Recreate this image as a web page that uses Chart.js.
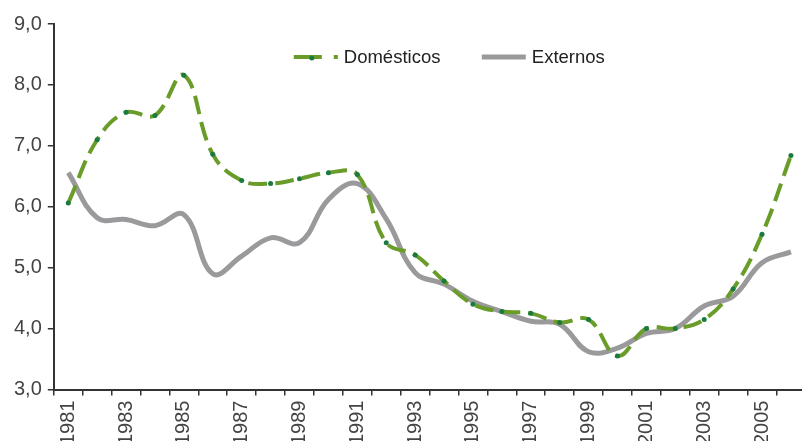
<!DOCTYPE html>
<html>
<head>
<meta charset="utf-8">
<script src="https://cdn.jsdelivr.net/npm/chart.js@4.4.1/dist/chart.umd.min.js"></script>
<style>
  html, body { margin: 0; padding: 0; background: #fff; overflow: hidden; }
  #wrap { width: 820px; height: 450px; }
</style>
</head>
<body>
<div id="wrap"><canvas id="chart"></canvas></div>
<script>
const years = ["1981", "1982", "1983", "1984", "1985", "1986", "1987", "1988", "1989",
  "1990", "1991", "1992", "1993", "1994", "1995", "1996", "1997", "1998", "1999",
  "2000", "2001", "2002", "2003", "2004", "2005", "2006"];

const domesticos = [6.06, 7.10, 7.55, 7.50, 8.16, 6.86, 6.43, 6.38, 6.46, 6.56, 6.53,
  5.41, 5.21, 4.78, 4.40, 4.28, 4.25, 4.10, 4.15, 3.55, 4.00, 4.00, 4.15, 4.65, 5.55, 6.84];

const externos = [6.56, 5.82, 5.79, 5.69, 5.87, 4.90, 5.19, 5.49, 5.41, 6.12, 6.38,
  5.80, 4.92, 4.73, 4.45, 4.28, 4.12, 4.07, 3.62, 3.68, 3.92, 4.00, 4.37, 4.53, 5.08, 5.26];

const yTicks = [3, 4, 5, 6, 7, 8, 9];

const font = "'Liberation Sans', Arial, sans-serif";
const axisColor = "#333";
const greenLine = "#6a9c2a";
const greenDot = "#1a7a40";
const grayLine = "#9a9a9c";

// legend drawn inside the plot, items side by side
const insideLegend = {
  id: "insideLegend",
  afterDraw(chart) {
    const ctx = chart.ctx;
    const area = chart.chartArea;
    const y = area.top + 33;
    const spots = [area.left + 240, area.left + 428];
    ctx.save();
    ctx.font = "18.5px " + font;
    ctx.textBaseline = "middle";
    chart.data.datasets.forEach((ds, i) => {
      const x0 = spots[i];
      const w = 44;
      ctx.beginPath();
      ctx.setLineDash(ds.borderDash ? [28, 12] : []);
      ctx.strokeStyle = ds.borderColor;
      ctx.lineWidth = ds.borderWidth;
      ctx.moveTo(x0, y);
      ctx.lineTo(x0 + w, y);
      ctx.stroke();
      ctx.setLineDash([]);
      if (ds.pointRadius) {
        ctx.beginPath();
        ctx.fillStyle = ds.pointBackgroundColor;
        ctx.arc(x0 + 18, y + 1, ds.pointRadius, 0, Math.PI * 2);
        ctx.fill();
      }
      ctx.fillStyle = "#222";
      ctx.fillText(ds.label, x0 + w + 6, y + 1);
    });
    ctx.restore();
  },
};

new Chart(document.getElementById("chart"), {
  type: "line",
  data: {
    labels: years,
    datasets: [
      {
        label: "Domésticos",
        data: domesticos,
        borderColor: greenLine,
        borderWidth: 4,
        borderDash: [19, 8],
        pointRadius: 2.5,
        pointBackgroundColor: greenDot,
        pointBorderWidth: 0,
        tension: 0.4,
      },
      {
        label: "Externos",
        data: externos,
        borderColor: grayLine,
        borderWidth: 5,
        pointRadius: 0,
        tension: 0.4,
      },
    ],
  },
  plugins: [insideLegend],
  options: {
    responsive: true,
    maintainAspectRatio: false,
    animation: false,
    layout: { padding: { left: 8, top: 24, right: 0, bottom: 0 } },
    plugins: {
      tooltip: { enabled: false },
      legend: { display: false },
    },
    scales: {
      x: {
        offset: true,
        grid: {
          display: true,
          drawOnChartArea: false,
          offset: true,
          tickLength: 6,
          color: axisColor,
          lineWidth: 1.5,
        },
        border: { color: axisColor, width: 2 },
        ticks: {
          autoSkip: false,
          maxRotation: 90,
          minRotation: 90,
          padding: 5,
          color: "#444",
          font: { family: font, size: 20 },
          callback: function (value, index) {
            return index % 2 === 0 ? years[index] : "";
          },
        },
      },
      y: {
        min: yTicks[0],
        max: yTicks[yTicks.length - 1],
        afterBuildTicks: (axis) => {
          axis.ticks = yTicks.map((v) => ({ value: v }));
        },
        grid: {
          display: true,
          drawOnChartArea: false,
          tickLength: 6,
          color: axisColor,
          lineWidth: 1.5,
        },
        border: { color: axisColor, width: 2 },
        ticks: {
          padding: 6,
          color: "#444",
          font: { family: font, size: 20 },
          callback: (v) => v.toFixed(1).replace(".", ","),
        },
      },
    },
  },
});
</script>
</body>
</html>
